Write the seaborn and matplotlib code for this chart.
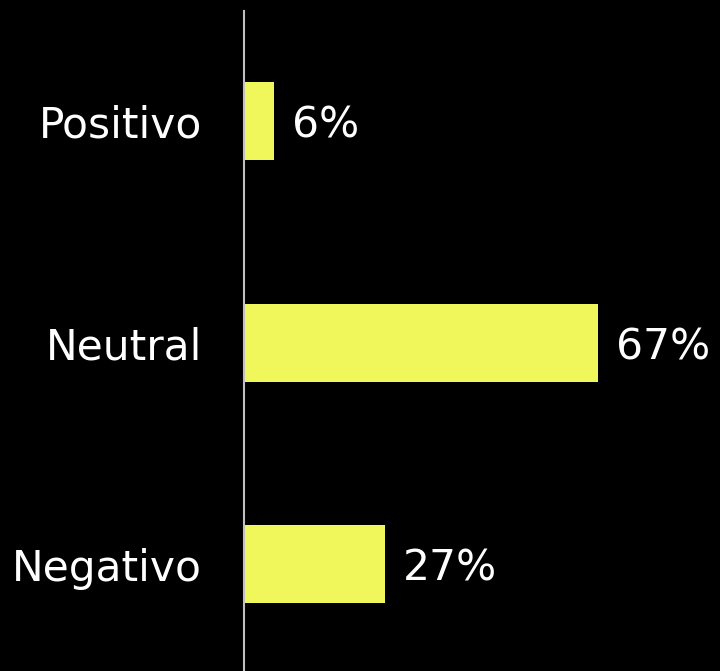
import pandas as pd
import matplotlib
matplotlib.use("Agg")
import matplotlib.pyplot as plt
import seaborn as sns

# sentiment shares (percent)
categories = ["Positivo", "Neutral", "Negativo"]
shares = [5.7, 67.2, 26.8]
labels = ["6%", "67%", "27%"]

df = pd.DataFrame({"sentimiento": categories, "pct": shares})

sns.set_style("dark")
plt.rcParams["font.family"] = ["DejaVu Sans"]

fig = plt.figure(figsize=(7.2, 6.71), dpi=100, facecolor="black")
ax = fig.add_axes([243.5 / 720, 0, 1 - 243.5 / 720, 660 / 671])
ax.set_facecolor("black")

sns.barplot(data=df, y="sentimiento", x="pct", orient="h", color="#F0F75A",
            saturation=1, width=0.352, linewidth=0, ax=ax)

for i, (v, lab) in enumerate(zip(shares, labels)):
    ax.text(v + 3.4, i, lab, color="white", fontsize=30.5,
            va="center_baseline", ha="left")

ax.set_xlim(0, 90.2)
ax.set_ylim(2.483, -0.497)
ax.set_xlabel("")
ax.set_ylabel("")
ax.set_xticks([])
ax.tick_params(axis="y", length=0, pad=30, labelsize=30.5, labelcolor="white")
ax.grid(False)
for s in ["top", "right", "bottom"]:
    ax.spines[s].set_visible(False)
ax.spines["left"].set_color("#BFBFBF")
ax.spines["left"].set_linewidth(1.5)

fig.savefig("out.png", dpi=100, facecolor="black")
